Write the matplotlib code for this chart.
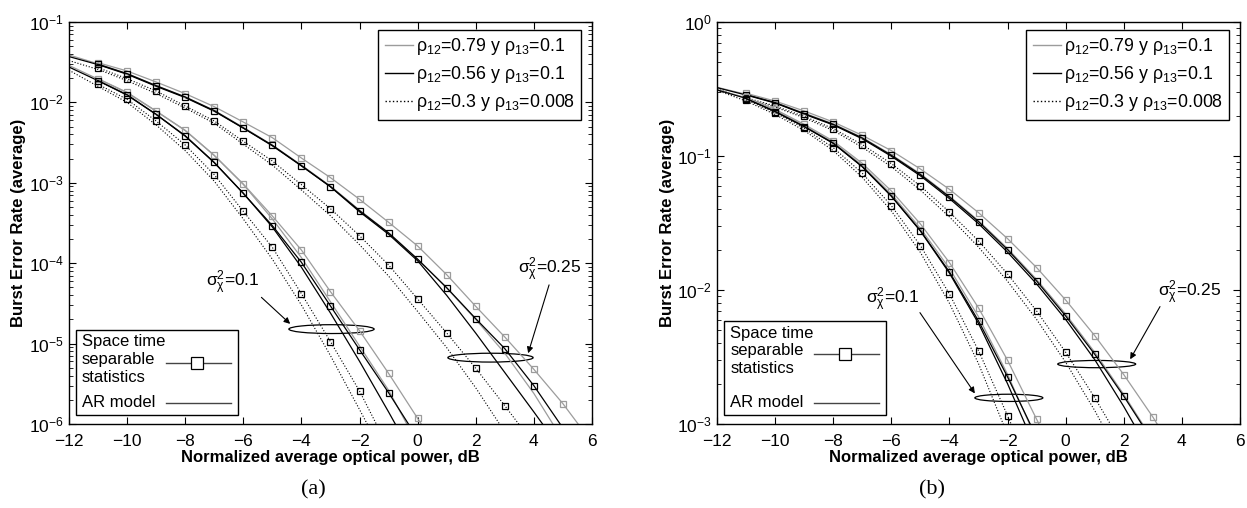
import numpy as np
import matplotlib
matplotlib.use("Agg")
import matplotlib.pyplot as plt
from matplotlib.lines import Line2D
from matplotlib.patches import Ellipse, Rectangle

plt.rcParams['font.family'] = ['Liberation Sans', 'DejaVu Sans']
plt.rcParams['mathtext.default'] = 'regular'

# values are log10(BER); separable curves start at -11 dB, AR curves at -12 dB
# panel (a)
a25_g_sep = [-1.506, -1.609, -1.746, -1.891, -2.053, -2.244, -2.439, -2.692, -2.936, -3.205,
             -3.491, -3.786, -4.143, -4.537, -4.918, -5.320, -5.747, -6.23]
a25_k_sep = [-1.526, -1.643, -1.792, -1.933, -2.103, -2.318, -2.534, -2.787, -3.048, -3.347,
             -3.624, -3.950, -4.304, -4.690, -5.063, -5.523, -6.05]
a25_d_sep = [-1.568, -1.705, -1.858, -2.045, -2.231, -2.484, -2.729, -3.023, -3.322, -3.658,
             -4.022, -4.445, -4.868, -5.307, -5.772, -6.25]
a25_g_ar = [-1.41, -1.52, -1.64, -1.79, -1.93, -2.10, -2.31, -2.53, -2.78, -3.04,
            -3.34, -3.62, -3.95, -4.31, -4.70, -5.12, -5.62, -6.20]
a25_k_ar = [-1.43, -1.53, -1.65, -1.80, -1.94, -2.11, -2.32, -2.54, -2.79, -3.05,
            -3.36, -3.64, -3.97, -4.40, -4.87, -5.36, -5.85, -6.35]
a25_d_ar = [-1.48, -1.59, -1.73, -1.89, -2.07, -2.26, -2.52, -2.78, -3.09, -3.41,
            -3.77, -4.16, -4.60, -5.05, -5.55, -6.10]

a10_g_sep = [-1.705, -1.875, -2.107, -2.347, -2.658, -3.015, -3.413, -3.836, -4.354, -4.840,
             -5.370, -5.930, -6.50]
a10_k_sep = [-1.730, -1.904, -2.148, -2.414, -2.746, -3.131, -3.533, -3.989, -4.532, -5.076,
             -5.611, -6.18]
a10_d_sep = [-1.775, -1.962, -2.231, -2.530, -2.899, -3.355, -3.803, -4.379, -4.976, -5.590, -6.30]
a10_g_ar = [-1.54, -1.71, -1.88, -2.11, -2.35, -2.66, -3.02, -3.45, -3.93, -4.48, -5.03, -5.58, -6.25]
a10_k_ar = [-1.56, -1.73, -1.91, -2.15, -2.42, -2.75, -3.13, -3.55, -4.05, -4.62, -5.22, -5.85, -6.50]
a10_d_ar = [-1.60, -1.80, -2.00, -2.28, -2.60, -2.98, -3.45, -3.95, -4.52, -5.15, -5.82, -6.50]

# panel (b)
b25_g_sep = [-0.532, -0.590, -0.664, -0.746, -0.846, -0.960, -1.097, -1.249, -1.423, -1.617,
             -1.833, -2.075, -2.341, -2.632, -2.948, -3.30]
b25_k_sep = [-0.542, -0.602, -0.684, -0.764, -0.866, -0.995, -1.139, -1.306, -1.490, -1.699,
             -1.933, -2.194, -2.480, -2.793, -3.13]
b25_d_sep = [-0.565, -0.627, -0.704, -0.796, -0.915, -1.057, -1.224, -1.418, -1.634, -1.881,
             -2.157, -2.465, -2.804, -3.17]
b25_g_ar = [-0.487, -0.540, -0.600, -0.680, -0.760, -0.862, -0.990, -1.133, -1.300, -1.483,
            -1.690, -1.922, -2.180, -2.465, -2.780, -3.12]
b25_k_ar = [-0.490, -0.545, -0.605, -0.688, -0.768, -0.872, -1.002, -1.148, -1.318, -1.505,
            -1.718, -1.955, -2.220, -2.520, -2.870, -3.25]
b25_d_ar = [-0.500, -0.570, -0.635, -0.715, -0.810, -0.935, -1.080, -1.255, -1.455, -1.680,
            -1.935, -2.220, -2.540, -2.900, -3.30]

b10_g_sep = [-0.562, -0.652, -0.764, -0.888, -1.055, -1.261, -1.507, -1.796, -2.134, -2.525, -2.965, -3.40]
b10_k_sep = [-0.572, -0.669, -0.781, -0.905, -1.080, -1.299, -1.557, -1.866, -2.231, -2.649, -3.10]
b10_d_sep = [-0.580, -0.677, -0.793, -0.938, -1.129, -1.371, -1.669, -2.030, -2.453, -2.938, -3.45]
b10_g_ar = [-0.505, -0.565, -0.660, -0.772, -0.897, -1.070, -1.285, -1.540, -1.840, -2.200, -2.630, -3.12]
b10_k_ar = [-0.507, -0.570, -0.668, -0.780, -0.905, -1.080, -1.300, -1.560, -1.875, -2.250, -2.700, -3.20]
b10_d_ar = [-0.510, -0.590, -0.690, -0.810, -0.960, -1.160, -1.410, -1.720, -2.100, -2.550, -3.080]

legend_labels = ['ρ$_{12}$=0.79 y ρ$_{13}$=0.1',
                 'ρ$_{12}$=0.56 y ρ$_{13}$=0.1',
                 'ρ$_{12}$=0.3 y ρ$_{13}$=0.008']
model_lines = ['Space time', 'separable', 'statistics']
xticks = [-12, -10, -8, -6, -4, -2, 0, 2, 4, 6]

GRAY = '#9c9c9c'
STYLES = {'g': (GRAY, '-', 0.9), 'k': ('black', '-', 0.9), 'd': ('black', ':', 0.8)}


def model_legend(ax, top):
    # MATLAB-style legend with the sample lines on the right of the labels
    ax.add_patch(Rectangle((0.013, 0.022), 0.31, top - 0.022, transform=ax.transAxes,
                           facecolor='white', edgecolor='black', lw=1.0, zorder=5))
    y0 = top - 0.03
    for i, t in enumerate(model_lines):
        ax.text(0.025, y0 - i * 0.044, t, transform=ax.transAxes, ha='left', va='center',
                fontsize=12, zorder=6)
    ax.text(0.025, 0.053, 'AR model', transform=ax.transAxes, ha='left', va='center',
            fontsize=12, zorder=6)
    ax.add_line(Line2D([0.185, 0.31], [y0 - 0.052] * 2, transform=ax.transAxes,
                       color='#444444', lw=1.0, zorder=6))
    ax.add_line(Line2D([0.244], [y0 - 0.052], transform=ax.transAxes, marker='s', ms=8,
                       mfc='white', mec='black', mew=0.9, ls='none', zorder=7))
    ax.add_line(Line2D([0.185, 0.31], [0.052] * 2, transform=ax.transAxes,
                       color='#444444', lw=1.0, zorder=6))


def draw_panel(ax, sep_curves, ar_curves, ylim, notes, box_top):
    for key, vals in ar_curves:
        color, ls, lw = STYLES[key]
        x = np.arange(-12, -12 + len(vals))
        ax.plot(x, np.power(10.0, vals), color=color, ls=ls, lw=lw)
    for key, vals in sep_curves:
        color, ls, lw = STYLES[key]
        x = np.arange(-11, -11 + len(vals))
        mec = GRAY if key == 'g' else 'black'
        ax.plot(x, np.power(10.0, vals), color=color, ls=ls, lw=lw, marker='s',
                ms=4, mfc='none', mec=mec, mew=0.9)

    ax.set_yscale('log')
    ax.set_xlim(-12, 6)
    ax.set_ylim(*ylim)
    ax.set_xticks(xticks)
    ax.tick_params(which='both', direction='in', top=True, right=True, labelsize=12.5)
    ax.tick_params(axis='x', pad=7)
    ax.tick_params(which='major', length=5)
    ax.tick_params(which='minor', length=3)
    for s in ax.spines.values():
        s.set_linewidth(1.0)
    ax.set_xlabel('Normalized average optical power, dB', fontweight='bold', fontsize=12, labelpad=1)
    ax.set_ylabel('Burst Error Rate (average)', fontweight='bold', fontsize=12, labelpad=2)

    # correlation legend
    h = [Line2D([], [], color=STYLES[k][0], ls=STYLES[k][1], lw=1.0) for k in ['g', 'k', 'd']]
    leg = ax.legend(h, legend_labels, loc='upper right', bbox_to_anchor=(0.979, 0.98),
                    borderaxespad=0, fancybox=False, framealpha=1, edgecolor='black',
                    fontsize=12.8, handlelength=1.6, handletextpad=0.15, labelspacing=0.4,
                    borderpad=0.35)
    leg.get_frame().set_linewidth(1.0)

    model_legend(ax, box_top)

    for label, txt_pos, tail, head, ell in notes:
        ax.text(*txt_pos, label, transform=ax.transAxes, ha='center', va='center', fontsize=12.5)
        ax.annotate('', xy=head, xytext=tail, xycoords='axes fraction', textcoords='axes fraction',
                    arrowprops=dict(arrowstyle='-|>', lw=0.8, color='black', mutation_scale=9,
                                    shrinkA=0, shrinkB=0))
        ax.add_patch(Ellipse(ell[:2], ell[2], ell[3], transform=ax.transAxes, fill=False,
                             lw=0.9, color='black'))


fig = plt.figure(figsize=(12.47, 5.08), dpi=100)
ax1 = fig.add_axes([0.0553, 0.1654, 0.4194, 0.7913])
ax2 = fig.add_axes([0.575, 0.1654, 0.4194, 0.7913])

draw_panel(ax1,
           [('g', a25_g_sep), ('k', a25_k_sep), ('d', a25_d_sep),
            ('g', a10_g_sep), ('k', a10_k_sep), ('d', a10_d_sep)],
           [('g', a25_g_ar), ('k', a25_k_ar), ('d', a25_d_ar),
            ('g', a10_g_ar), ('k', a10_k_ar), ('d', a10_d_ar)],
           (1e-6, 1e-1),
           [('σ$^2_χ$=0.1', (0.314, 0.35), (0.368, 0.315), (0.423, 0.249), (0.502, 0.236, 0.163, 0.022)),
            ('σ$^2_χ$=0.25', (0.92, 0.383), (0.918, 0.346), (0.878, 0.176), (0.806, 0.165, 0.163, 0.022))],
           0.234)

draw_panel(ax2,
           [('g', b25_g_sep), ('k', b25_k_sep), ('d', b25_d_sep),
            ('g', b10_g_sep), ('k', b10_k_sep), ('d', b10_d_sep)],
           [('g', b25_g_ar), ('k', b25_k_ar), ('d', b25_d_ar),
            ('g', b10_g_ar), ('k', b10_k_ar), ('d', b10_d_ar)],
           (1e-3, 1e0),
           [('σ$^2_χ$=0.1', (0.337, 0.31), (0.388, 0.277), (0.493, 0.076), (0.558, 0.065, 0.13, 0.018)),
            ('σ$^2_χ$=0.25', (0.904, 0.325), (0.847, 0.292), (0.79, 0.161), (0.726, 0.149, 0.149, 0.018))],
           0.256)

fig.text(0.251, 0.035, '(a)', ha='center', va='center', fontsize=16, family='Liberation Serif')
fig.text(0.747, 0.035, '(b)', ha='center', va='center', fontsize=16, family='Liberation Serif')

fig.savefig('out.png', dpi=100)
